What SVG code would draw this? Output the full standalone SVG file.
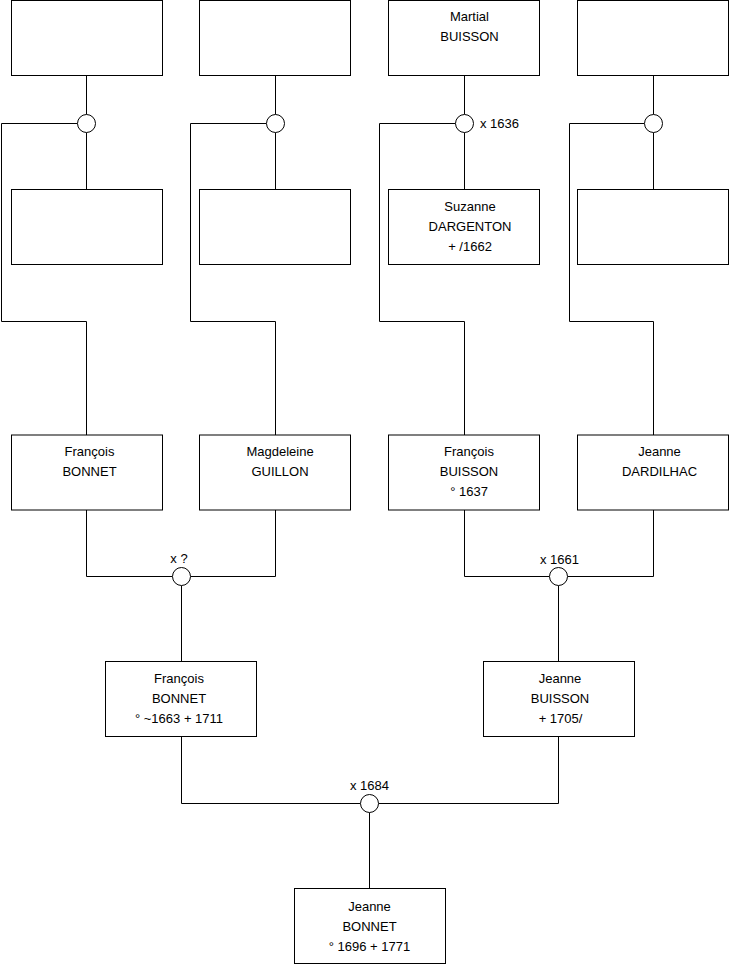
<svg xmlns="http://www.w3.org/2000/svg" width="740" height="975" viewBox="0 0 740 975">
<style>
.box{fill:#fff;stroke:#000;stroke-width:1}
.c{fill:#fff;stroke:#000;stroke-width:1}
.ln{fill:none;stroke:#000;stroke-width:1}
text{font-family:"Liberation Sans",Arial,sans-serif;font-size:13px;fill:#000}
.m{text-anchor:middle}
</style>
<rect width="740" height="975" fill="#fff"/>
<g id="connectors">
<path class="ln" d="M86.5,76 V114.5 M86.5,132.5 V189.5 M77.5,123.5 H1.5 V321.5 H86.5 V435"/>
<path class="ln" d="M275.5,76 V114.5 M275.5,132.5 V189.5 M266.5,123.5 H190.5 V321.5 H275.5 V435"/>
<path class="ln" d="M464.5,76 V114.5 M464.5,132.5 V189.5 M455.5,123.5 H379.5 V321.5 H464.5 V435"/>
<path class="ln" d="M653.5,76 V114.5 M653.5,132.5 V189.5 M644.5,123.5 H569.5 V321.5 H653.5 V435"/>
<path class="ln" d="M86.5,510 V576.5 H172.5 M275.5,510 V576.5 H190.5 M181.5,585.5 V661.5"/>
<path class="ln" d="M464.5,510 V576.5 H549.5 M653.5,510 V576.5 H567.5 M558.5,585.5 V661.5"/>
<path class="ln" d="M181.5,737 V803.5 H360.5 M558.5,737 V803.5 H378.5 M369.5,812.5 V888.5"/>
<circle class="c" cx="86.5" cy="123.5" r="9"/>
<circle class="c" cx="275.5" cy="123.5" r="9"/>
<circle class="c" cx="464.5" cy="123.5" r="9"/>
<circle class="c" cx="653.5" cy="123.5" r="9"/>
<circle class="c" cx="181.5" cy="576.5" r="9"/>
<circle class="c" cx="558.5" cy="576.5" r="9"/>
<circle class="c" cx="369.5" cy="803.5" r="9"/>
<text x="480" y="128">x 1636</text>
<text class="m" x="179" y="563">x ?</text>
<text class="m" x="559.5" y="563.5">x 1661</text>
<text class="m" x="369.5" y="790">x 1684</text>
</g>
<g id="n1"><rect class="box" x="11.5" y="0.5" width="151" height="75"/></g>
<g id="n2"><rect class="box" x="199.5" y="0.5" width="151" height="75"/></g>
<g id="n3"><rect class="box" x="388.5" y="0.5" width="151" height="75"/>
<text class="m" x="469.5" y="20.5">Martial</text><text class="m" x="469.5" y="40.5">BUISSON</text></g>
<g id="n4"><rect class="box" x="577.5" y="0.5" width="151" height="75"/></g>
<g id="n5"><rect class="box" x="11.5" y="189.5" width="151" height="75"/></g>
<g id="n6"><rect class="box" x="199.5" y="189.5" width="151" height="75"/></g>
<g id="n7"><rect class="box" x="388.5" y="189.5" width="151" height="75"/>
<text class="m" x="470" y="211">Suzanne</text><text class="m" x="470" y="231">DARGENTON</text><text class="m" x="470" y="251">+ /1662</text></g>
<g id="n8"><rect class="box" x="577.5" y="189.5" width="151" height="75"/></g>
<g id="n9"><rect class="box" x="11.5" y="435" width="151" height="75"/>
<text class="m" x="89.5" y="455.5">François</text><text class="m" x="89.5" y="475.5">BONNET</text></g>
<g id="n10"><rect class="box" x="199.5" y="435" width="151" height="75"/>
<text class="m" x="280" y="455.5">Magdeleine</text><text class="m" x="280" y="475.5">GUILLON</text></g>
<g id="n11"><rect class="box" x="388.5" y="435" width="151" height="75"/>
<text class="m" x="469" y="455.5">François</text><text class="m" x="469" y="475.5">BUISSON</text><text class="m" x="469" y="495.5">° 1637</text></g>
<g id="n12"><rect class="box" x="577.5" y="435" width="151" height="75"/>
<text class="m" x="659.5" y="455.5">Jeanne</text><text class="m" x="659.5" y="475.5">DARDILHAC</text></g>
<g id="n13"><rect class="box" x="105.5" y="661.5" width="151" height="75"/>
<text class="m" x="179" y="682.5">François</text><text class="m" x="179" y="702.5">BONNET</text><text class="m" x="179" y="722.5">° ~1663 + 1711</text></g>
<g id="n14"><rect class="box" x="483.5" y="661.5" width="151" height="75"/>
<text class="m" x="560" y="682.5">Jeanne</text><text class="m" x="560" y="702.5">BUISSON</text><text class="m" x="560.5" y="722.5">+ 1705/</text></g>
<g id="n15"><rect class="box" x="294.5" y="888.5" width="151" height="75"/>
<text class="m" x="369.5" y="910.5">Jeanne</text><text class="m" x="369.5" y="930.5">BONNET</text><text class="m" x="369.5" y="950.5">° 1696 + 1771</text></g>
</svg>
